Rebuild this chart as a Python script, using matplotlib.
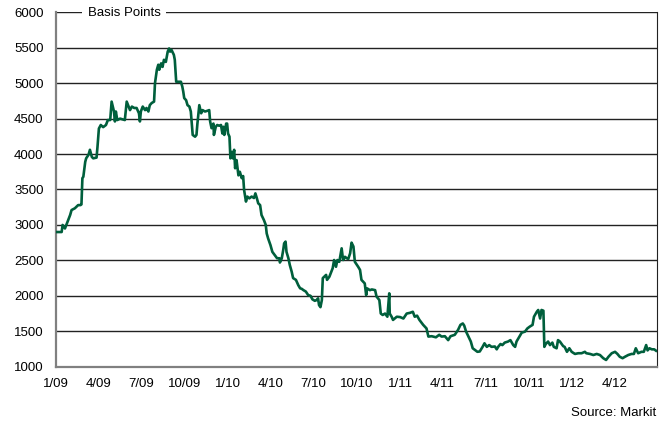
import datetime as dt
import matplotlib
matplotlib.use('Agg')
import matplotlib.pyplot as plt

plt.rcParams['font.family'] = ['Liberation Sans', 'DejaVu Sans']

# days since 1 Jan 2009, spread in basis points
days = [1, 12, 14, 19, 23, 30, 33, 40, 47, 52, 54, 56, 58, 62, 64, 69, 72, 76, 79, 86,
        88, 91, 95, 100, 106, 110, 115, 118, 123, 125, 127, 130, 136, 146, 150, 153, 157, 161, 166, 171,
        176, 178, 180, 184, 189, 192, 196, 199, 203, 208, 210, 214, 217, 219, 223, 226, 229, 233, 237, 240,
        242, 245, 250, 252, 255, 259, 265, 268, 270, 272, 276, 279, 283, 286, 290, 295, 298, 300, 304, 308,
        311, 316, 321, 325, 327, 330, 334, 335, 339, 342, 346, 350, 353, 355, 357, 361, 363, 365, 368, 370,
        373, 375, 378, 380, 383, 387, 390, 394, 397, 399, 403, 406, 410, 415, 420, 423, 426, 429, 433, 436,
        441, 445, 447, 450, 455, 459, 464, 469, 474, 475, 479, 482, 484, 487, 489, 493, 496, 500, 503, 509,
        514, 518, 521, 525, 530, 535, 540, 544, 549, 553, 556, 558, 561, 564, 566, 569, 573, 575, 580, 583,
        587, 590, 594, 597, 601, 606, 609, 613, 617, 620, 624, 627, 631, 634, 641, 645, 648, 655, 658, 660,
        666, 670, 677, 680, 686, 689, 693, 698, 703, 707, 708, 712, 715, 723, 730, 737, 744, 751, 757, 761,
        766, 771, 779, 786, 790, 797, 806, 813, 818, 825, 832, 837, 846, 853, 858, 863, 866, 870, 875, 880,
        884, 889, 894, 899, 905, 909, 914, 919, 924, 931, 935, 938, 943, 947, 952, 959, 964, 970, 974, 977,
        981, 988, 995, 1000, 1005, 1011, 1014, 1020, 1023, 1027, 1030, 1034, 1036, 1039, 1044, 1048, 1053, 1056, 1062, 1065,
        1069, 1076, 1079, 1084, 1089, 1094, 1101, 1108, 1115, 1122, 1125, 1133, 1140, 1147, 1154, 1161, 1167, 1172, 1179, 1186,
        1191, 1196, 1202, 1207, 1214, 1221, 1226, 1230, 1235, 1242, 1247, 1252, 1255, 1259, 1264, 1269, 1273]
spread = [2900, 2900, 3000, 2950, 3020, 3140, 3210, 3235, 3280, 3280, 3290, 3660, 3680, 3890, 3940, 3990, 4060, 3960, 3940, 3950,
          4100, 4360, 4410, 4380, 4410, 4480, 4480, 4740, 4600, 4460, 4600, 4480, 4500, 4480, 4740, 4690, 4620, 4670, 4650, 4650,
          4575, 4460, 4600, 4670, 4620, 4650, 4600, 4690, 4720, 4740, 5000, 5190, 5260, 5190, 5280, 5230, 5330, 5300, 5445, 5490,
          5445, 5470, 5400, 5330, 5020, 5020, 5020, 4950, 4880, 4790, 4760, 4690, 4670, 4600, 4270, 4245, 4270, 4430, 4690, 4575,
          4620, 4600, 4610, 4620, 4460, 4365, 4430, 4270, 4385, 4410, 4400, 4410, 4290, 4385, 4270, 4430, 4430, 4290, 4245, 3940,
          4030, 3940, 4060, 3800, 3915, 3700, 3750, 3660, 3690, 3495, 3330, 3400, 3375, 3400, 3380, 3445, 3380, 3305, 3280, 3140,
          3070, 3000, 2880, 2810, 2715, 2620, 2575, 2530, 2530, 2470, 2530, 2645, 2740, 2765, 2620, 2530, 2435, 2340, 2250, 2225,
          2150, 2105, 2100, 2080, 2060, 2010, 2000, 1950, 1930, 1940, 1965, 1870, 1840, 1940, 2250, 2270, 2295, 2225, 2270, 2320,
          2390, 2505, 2410, 2505, 2480, 2670, 2505, 2550, 2530, 2520, 2600, 2750, 2695, 2480, 2410, 2365, 2225, 2175, 2010, 2105,
          2080, 2090, 2080, 1990, 1940, 1750, 1730, 1750, 1705, 2035, 1750, 1705, 1660, 1705, 1700, 1680, 1750, 1760, 1775, 1705,
          1720, 1660, 1590, 1540, 1425, 1430, 1415, 1450, 1425, 1430, 1375, 1430, 1450, 1520, 1590, 1610, 1580, 1495, 1425, 1355,
          1260, 1235, 1210, 1215, 1280, 1330, 1280, 1305, 1280, 1285, 1245, 1280, 1320, 1305, 1340, 1355, 1375, 1305, 1280, 1355,
          1400, 1480, 1495, 1540, 1565, 1590, 1705, 1775, 1800, 1680, 1800, 1790, 1280, 1320, 1355, 1305, 1340, 1280, 1260, 1375,
          1355, 1290, 1280, 1210, 1260, 1210, 1180, 1190, 1190, 1210, 1190, 1180, 1165, 1180, 1165, 1120, 1095, 1140, 1190, 1210,
          1180, 1140, 1120, 1140, 1165, 1180, 1180, 1260, 1190, 1210, 1210, 1305, 1230, 1260, 1245, 1245, 1225]

tick_labels = ['1/09', '4/09', '7/09', '10/09', '1/10', '4/10', '7/10',
               '10/10', '1/11', '4/11', '7/11', '10/11', '1/12', '4/12']

start = dt.datetime(2009, 1, 1)
dates = [start + dt.timedelta(days=d) for d in days]
tick_dates = []
for i in range(len(tick_labels)):
    m = 1 + 3 * (i % 4)
    tick_dates.append(dt.datetime(2009 + i // 4, m, 1))

fig = plt.figure(figsize=(6.66, 4.23), dpi=100)
ax = fig.add_axes([56 / 666, 1 - 366.7 / 423, 601 / 666, 354.4 / 423])

for v in range(1500, 6001, 500):
    ax.axhline(v, color='#222222', lw=1.0, zorder=1)

ax.plot(dates, spread, color='#005f3c', lw=1.9, zorder=3)

ax.set_xlim(start, start + dt.timedelta(days=1275))
ax.set_ylim(1000, 6000)
ax.set_yticks(range(1000, 6001, 500))
ax.set_xticks(tick_dates)
ax.set_xticklabels(tick_labels)
ax.tick_params(axis='both', length=0, labelsize=9.5, colors='black')
ax.tick_params(axis='y', pad=9)
ax.tick_params(axis='x', pad=8)

ax.spines['left'].set_color('#808080')
ax.spines['left'].set_linewidth(1.6)
ax.spines['bottom'].set_color('#808080')
ax.spines['bottom'].set_linewidth(1.6)
ax.spines['right'].set_color('#222222')
ax.spines['top'].set_visible(False)

# label sits on the top grid line, white box hides the line behind it
fig.text(88 / 666, 1 - 12.5 / 423, 'Basis Points', fontsize=9.5,
         va='center', ha='left', zorder=5,
         bbox=dict(facecolor='white', edgecolor='none', pad=4))

fig.text(656 / 666, 1 - 413 / 423, 'Source: Markit', fontsize=9.5, ha='right', va='center')

fig.savefig('out.png', dpi=100)
